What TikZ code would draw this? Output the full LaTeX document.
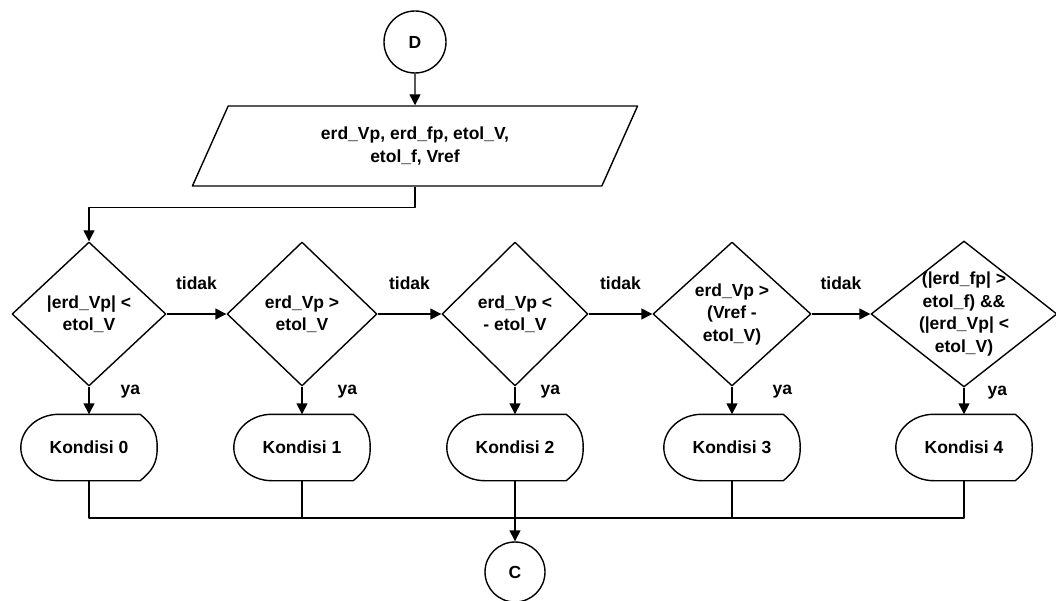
\documentclass[tikz,border=0pt]{standalone}
\usepackage{fontspec}
\setmainfont{Liberation Sans}
\usetikzlibrary{shapes.geometric,arrows.meta}

\begin{document}
\begin{tikzpicture}[x=1pt,y=1pt,line width=1.4pt,line join=round,
    >={Triangle[length=11pt,width=11pt]},
    every node/.style={font=\fontsize{17.5}{22.5}\selectfont\bfseries,inner sep=0pt},
    conn/.style={draw,circle,minimum size=62pt},
    inbox/.style={draw,trapezium,trapezium left angle=64.6,trapezium right angle=115.4,
      trapezium stretches=true,minimum width=446pt,minimum height=80pt,align=center},
    dec/.style={draw,diamond,minimum height=144pt},
    txt/.style={align=center},
    kondisi/.style={minimum width=135pt,minimum height=65pt}]
  \useasboundingbox (0,0) rectangle (1056,600);

  % start, input
  \node[conn] (D) at (415,558) {D};
  \node[inbox] (in) at (415,454) {erd\_Vp, erd\_fp, etol\_V,\\etol\_f, Vref};

  % decisions
  \node[dec,minimum width=154pt,label={[txt]center:{|erd\_Vp| <\\etol\_V}}] (d0) at (89,286) {};
  \node[dec,minimum width=150pt,label={[txt]center:{erd\_Vp >\\etol\_V}}] (d1) at (302,286) {};
  \node[dec,minimum width=146pt,label={[txt]center:{erd\_Vp <\\- etol\_V}}] (d2) at (515,286) {};
  \node[dec,minimum width=158pt,label={[txt]center:{erd\_Vp >\\(Vref -\\etol\_V)}}] (d3) at (732,286) {};
  \node[dec,minimum width=186pt,minimum height=146pt,
    label={[txt]center:{(|erd\_fp| >\\etol\_f) \&\&\\(|erd\_Vp| <\\etol\_V)}}] (d4) at (964,286) {};

  % outcomes
  \foreach \i/\x in {0/89,1/302,2/515,3/732,4/964}
    \node[kondisi] (k\i) at (\x,152.5) {Kondisi \i};
  \foreach \i in {0,...,4}
    \draw ([xshift=38pt]k\i.north west) -- ([xshift=-17pt]k\i.north east)
      .. controls ([xshift=-5pt,yshift=-10pt]k\i.north east) and ([yshift=16pt]k\i.east) .. (k\i.east)
      .. controls ([yshift=-16pt]k\i.east) and ([xshift=-5pt,yshift=10pt]k\i.south east) .. ([xshift=-17pt]k\i.south east)
      -- ([xshift=38pt]k\i.south west)
      .. controls ([xshift=17pt]k\i.south west) and ([yshift=-18pt]k\i.west) .. (k\i.west)
      .. controls ([yshift=18pt]k\i.west) and ([xshift=17pt]k\i.north west) .. cycle;

  \node[conn,minimum size=60pt] (C) at (515,28) {C};
  \coordinate (bus) at (515,82);

  \begin{scope}[->]
    \draw (D.south) -- (in.north);
    \draw (in.south -| D.south) -- ++(0,-21) -| (d0.north);
    \foreach \a/\b in {d0/d1,d1/d2,d2/d3,d3/d4}
      \draw (\a.east) -- node[midway,anchor=base,yshift=24pt] (no\a) {tidak} (\b.west);
    \foreach \i/\s in {0/31,1/35,2/25,3/40,4/23} {
      \draw (d\i.south) -- (k\i.north);
      \node[anchor=base west] (ya\i) at ([xshift=\s pt,yshift=-8pt]d\i.south) {ya};
    }
    \draw (k2.south) -- (C.north);
  \end{scope}
  \draw (k0.south) |- (bus) -| (k4.south);
  \draw (k1.south) -- (k1.south |- bus);
  \draw (k3.south) -- (k3.south |- bus);
\end{tikzpicture}
\end{document}
